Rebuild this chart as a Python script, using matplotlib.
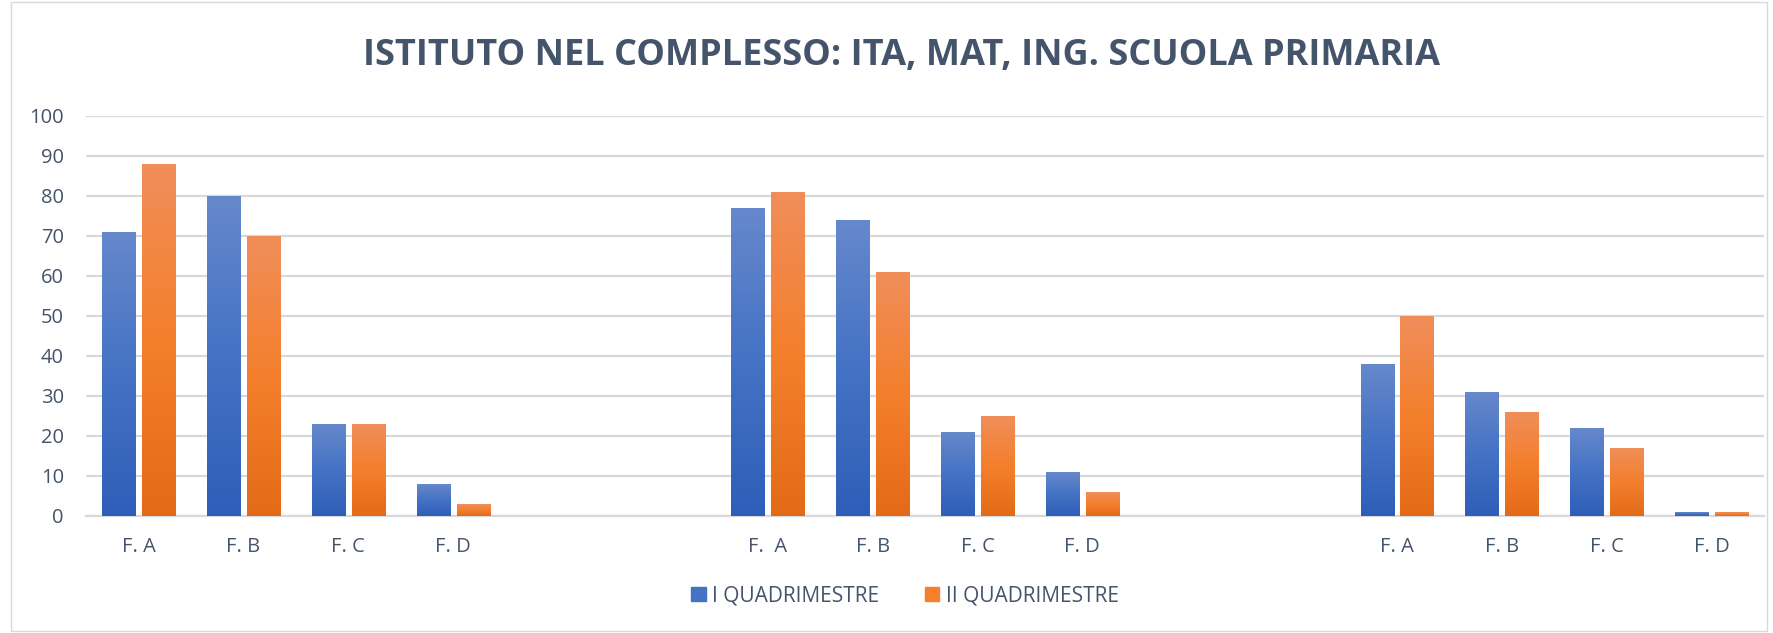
import numpy as np
import matplotlib
matplotlib.use("Agg")
import matplotlib.pyplot as plt
from matplotlib.colors import LinearSegmentedColormap
from matplotlib.patches import Rectangle

plt.rcParams['font.family'] = ['Open Sans', 'DejaVu Sans']

title = "ISTITUTO NEL COMPLESSO: ITA, MAT, ING. SCUOLA PRIMARIA"
categories = ["F. A", "F. B", "F. C", "F. D", "", "",
              "F.  A", "F. B", "F. C", "F. D", "", "",
              "F. A", "F. B", "F. C", "F. D"]
q1 = [71, 80, 23, 8, None, None, 77, 74, 21, 11, None, None, 38, 31, 22, 1]
q2 = [88, 70, 23, 3, None, None, 81, 61, 25, 6, None, None, 50, 26, 17, 1]
series_names = ["I QUADRIMESTRE", "II QUADRIMESTRE"]

text_col = '#44546A'
grid_col = '#D9D9D9'
blue = ('#6688CC', '#4472C4', '#2E5EB8')
orange = ('#F08E5A', '#F47F2C', '#E36B18')

fig = plt.figure(figsize=(17.74, 6.33), dpi=100)
ax = fig.add_axes([0.0485, 0.1853, 0.9459, 0.6319])

x = np.arange(len(categories))
v1 = np.array([np.nan if v is None else v for v in q1], dtype=float)
v2 = np.array([np.nan if v is None else v for v in q2], dtype=float)
w = 0.315
off = 0.19

bars1 = ax.bar(x - off, np.nan_to_num(v1), w, color='none', label=series_names[0])
bars2 = ax.bar(x + off, np.nan_to_num(v2), w, color='none', label=series_names[1])


def gradient_fill(bars, cols):
    # lighter at the top, darker at the bottom, like the Excel fill
    cmap = LinearSegmentedColormap.from_list('g', [cols[2], cols[1], cols[0]])
    for b in bars:
        h = b.get_height()
        if h <= 0:
            continue
        bx, by = b.get_xy()
        im = ax.imshow(np.linspace(0, 1, 256).reshape(-1, 1), cmap=cmap,
                       origin='lower', aspect='auto', zorder=3,
                       extent=[bx, bx + b.get_width(), by, by + h])
        im.set_clip_path(b)


gradient_fill(bars1, blue)
gradient_fill(bars2, orange)

ax.set_xlim(-0.5, len(categories) - 0.5)
ax.set_ylim(0, 100)
ax.set_yticks(np.arange(0, 101, 10))
ax.set_xticks(x)
ax.set_xticklabels(categories)
ax.grid(axis='y', color=grid_col, linewidth=1.6, zorder=0)
ax.set_axisbelow(True)
for s in ['top', 'right', 'left']:
    ax.spines[s].set_visible(False)
ax.spines['bottom'].set_color(grid_col)
ax.spines['bottom'].set_linewidth(1.6)
ax.tick_params(axis='both', length=0, colors=text_col, labelsize=14.5)
ax.tick_params(axis='y', pad=16)
ax.tick_params(axis='x', pad=15)

fig.text(0.508, 0.911, title, ha='center', va='center', fontsize=26,
         fontweight='bold', color=text_col)

handles = [Rectangle((0, 0), 1, 1, color=blue[1]), Rectangle((0, 0), 1, 1, color=orange[1])]
fig.legend(handles, series_names, loc='center', bbox_to_anchor=(0.51, 0.0585),
           ncol=2, frameon=False, fontsize=15, labelcolor=text_col,
           handlelength=0.7, handleheight=0.7, handletextpad=0.3, columnspacing=2.2)

fig.patches.append(Rectangle((0.006, 0.003), 0.99, 0.994, transform=fig.transFigure,
                             fill=False, edgecolor=grid_col, linewidth=1))

fig.savefig('out.png', dpi=100)
